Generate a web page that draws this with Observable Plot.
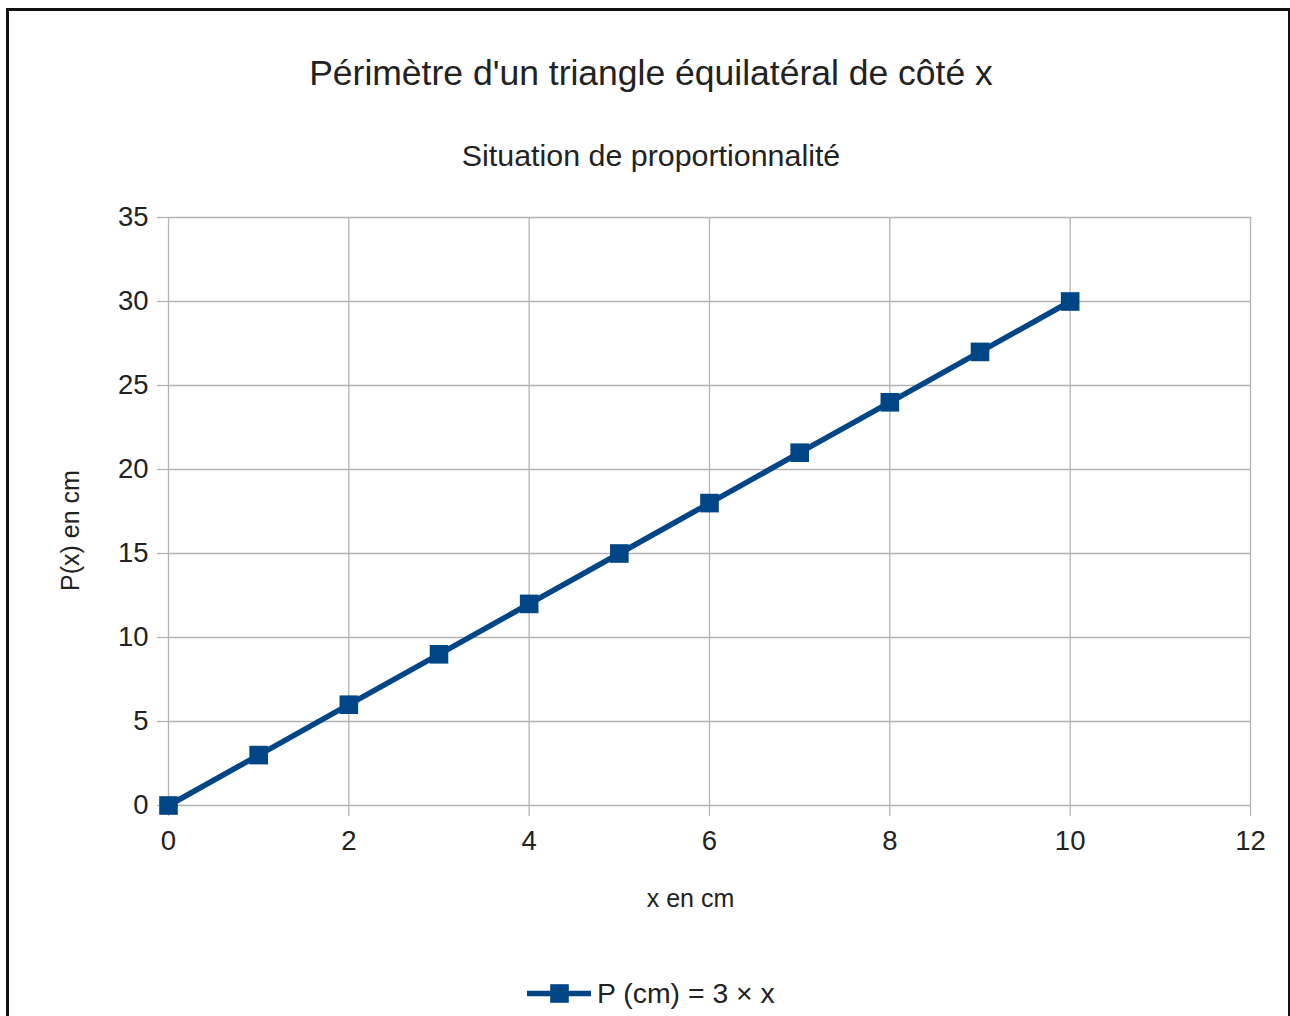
<!DOCTYPE html>
<html>
<head>
<meta charset="utf-8">
<script src="https://cdn.jsdelivr.net/npm/d3@7"></script>
<script src="https://cdn.jsdelivr.net/npm/@observablehq/plot@0.6"></script>
<style>
  html, body { margin: 0; padding: 0; background: #fff; }
  body { width: 1290px; height: 1016px; overflow: hidden; position: relative; font-family: "Liberation Sans", Arial, sans-serif; color: #222; }
  #frame { position: absolute; left: 6px; top: 8px; width: 1285px; height: 1100px; border: 3px solid #111; box-sizing: border-box; }
  .title { position: absolute; left: 0; width: 1302px; text-align: center; white-space: nowrap; }
  #t1 { top: 53px; font-size: 35.5px; }
  #t2 { top: 138px; font-size: 30.4px; }
  #chart { position: absolute; left: 0; top: 190px; }
  #legend { position: absolute; top: 976px; left: 527px; display: flex; align-items: center; font-size: 28.4px; white-space: nowrap; }
  #legend svg { margin-right: 6px; }
</style>
</head>
<body>
<div id="frame"></div>
<div class="title" id="t1">Périmètre d'un triangle équilatéral de côté x</div>
<div class="title" id="t2">Situation de proportionnalité</div>
<div id="chart"></div>
<div id="legend"></div>
<script>
const xValues = [0, 1, 2, 3, 4, 5, 6, 7, 8, 9, 10];
const pValues = [0, 3, 6, 9, 12, 15, 18, 21, 24, 27, 30];
const xTicks = [0, 2, 4, 6, 8, 10, 12];
const yTicks = [0, 5, 10, 15, 20, 25, 30, 35];
const seriesName = "P (cm) = 3 × x";
const xLabel = "x en cm";
const yLabel = "P(x) en cm";
const lineColor = "#004586";
const gridColor = "#b3b3b3";

const data = xValues.map((x, i) => ({x, p: pValues[i]}));

const chart = Plot.plot({
  width: 1290,
  height: 740,
  marginLeft: 168,
  marginRight: 40,
  marginTop: 27,
  marginBottom: 125,
  style: { fontFamily: "Liberation Sans, Arial, sans-serif", fontSize: "27px", color: "#222", background: "transparent" },
  x: { domain: [0, 12] },
  y: { domain: [0, 35] },
  marks: [
    Plot.gridX(xTicks, { stroke: gridColor, strokeOpacity: 1, strokeWidth: 1.3 }),
    Plot.gridY(yTicks, { stroke: gridColor, strokeOpacity: 1, strokeWidth: 1.3 }),
    Plot.axisX(xTicks, { tickSize: 11, tickPadding: 14, stroke: gridColor, strokeWidth: 1.3, fill: "#222", fontSize: 27.5, label: null }),
    Plot.axisY(yTicks, { tickSize: 11, tickPadding: 9, stroke: gridColor, strokeWidth: 1.3, fill: "#222", fontSize: 27.5, label: null }),
    Plot.text([xLabel], { frameAnchor: "bottom", text: d => d, dx: -19, dy: 93, lineAnchor: "middle", fontSize: 25, fill: "#222" }),
    Plot.text([yLabel], { frameAnchor: "left", text: d => d, dx: -98, dy: 19, rotate: -90, textAnchor: "middle", lineAnchor: "middle", fontSize: 25, fill: "#222" }),
    Plot.line(data, { x: "x", y: "p", stroke: lineColor, strokeWidth: 5.5 }),
    Plot.dot(data, { x: "x", y: "p", symbol: "square", r: 10.5, fill: lineColor, stroke: "none" })
  ]
});
document.getElementById("chart").appendChild(chart);

// legend
const leg = Plot.plot({
  width: 64, height: 34, margin: 0,
  x: { domain: [0, 1], axis: null }, y: { domain: [0, 1], axis: null },
  marks: [
    Plot.line([{a: 0, b: 0.5}, {a: 1, b: 0.5}], { x: "a", y: "b", stroke: lineColor, strokeWidth: 5.5 }),
    Plot.dot([{a: 0.5, b: 0.5}], { x: "a", y: "b", symbol: "square", r: 10.5, fill: lineColor })
  ]
});
const legDiv = document.getElementById("legend");
legDiv.appendChild(leg);
const span = document.createElement("span");
span.textContent = seriesName;
legDiv.appendChild(span);
</script>
</body>
</html>
